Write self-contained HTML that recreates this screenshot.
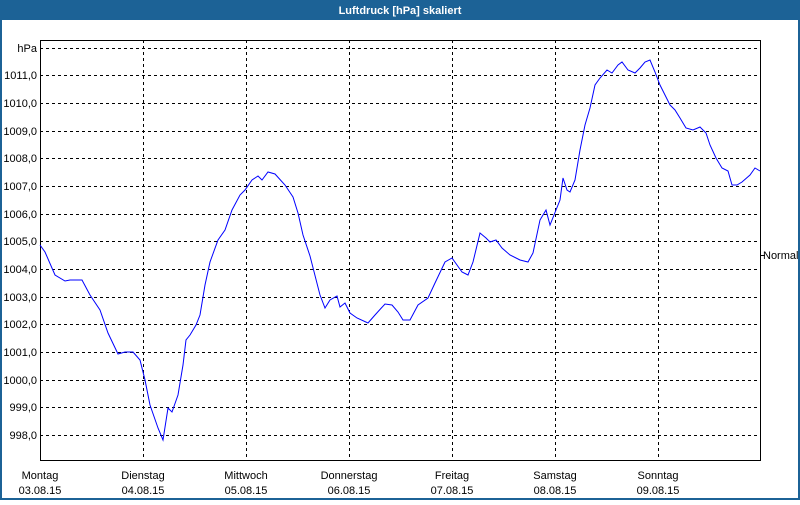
<!DOCTYPE html>
<html><head><meta charset="utf-8"><style>
html,body{margin:0;padding:0;}
body{width:800px;height:500px;overflow:hidden;background:#fff;font-family:"Liberation Sans","DejaVu Sans",sans-serif;}
</style></head><body>
<svg width="800" height="500" xmlns="http://www.w3.org/2000/svg" font-family="Liberation Sans, DejaVu Sans, sans-serif" font-size="11">
<rect x="0" y="0" width="800" height="500" fill="#1c6296"/>
<rect x="2" y="20" width="796" height="478" fill="#fff"/>
<text x="400" y="14" fill="#fff" font-weight="bold" text-anchor="middle">Luftdruck [hPa] skaliert</text>
<g stroke="#000" stroke-dasharray="3,3" stroke-width="1">
<line x1="40" x2="760" y1="48.5" y2="48.5"/>
<line x1="40" x2="760" y1="75.5" y2="75.5"/>
<line x1="40" x2="760" y1="103.5" y2="103.5"/>
<line x1="40" x2="760" y1="131.5" y2="131.5"/>
<line x1="40" x2="760" y1="158.5" y2="158.5"/>
<line x1="40" x2="760" y1="186.5" y2="186.5"/>
<line x1="40" x2="760" y1="214.5" y2="214.5"/>
<line x1="40" x2="760" y1="241.5" y2="241.5"/>
<line x1="40" x2="760" y1="269.5" y2="269.5"/>
<line x1="40" x2="760" y1="297.5" y2="297.5"/>
<line x1="40" x2="760" y1="324.5" y2="324.5"/>
<line x1="40" x2="760" y1="352.5" y2="352.5"/>
<line x1="40" x2="760" y1="380.5" y2="380.5"/>
<line x1="40" x2="760" y1="407.5" y2="407.5"/>
<line x1="40" x2="760" y1="435.5" y2="435.5"/>
<line x1="143.5" x2="143.5" y1="40" y2="460"/>
<line x1="246.5" x2="246.5" y1="40" y2="460"/>
<line x1="349.5" x2="349.5" y1="40" y2="460"/>
<line x1="452.5" x2="452.5" y1="40" y2="460"/>
<line x1="555.5" x2="555.5" y1="40" y2="460"/>
<line x1="658.5" x2="658.5" y1="40" y2="460"/>
</g>
<rect x="40.5" y="40.5" width="720" height="420" fill="none" stroke="#000"/>
<line x1="760" x2="765" y1="255.5" y2="255.5" stroke="#000"/>
<g text-anchor="end" fill="#000">
<text x="37" y="52">hPa</text>
<text x="37" y="79">1011,0</text>
<text x="37" y="107">1010,0</text>
<text x="37" y="135">1009,0</text>
<text x="37" y="162">1008,0</text>
<text x="37" y="190">1007,0</text>
<text x="37" y="218">1006,0</text>
<text x="37" y="245">1005,0</text>
<text x="37" y="273">1004,0</text>
<text x="37" y="301">1003,0</text>
<text x="37" y="328">1002,0</text>
<text x="37" y="356">1001,0</text>
<text x="37" y="384">1000,0</text>
<text x="37" y="411">999,0</text>
<text x="37" y="439">998,0</text>
</g>
<text x="763" y="259" fill="#000">Normal</text>
<g text-anchor="middle" fill="#000">
<text x="40" y="479">Montag</text><text x="40" y="494">03.08.15</text>
<text x="143" y="479">Dienstag</text><text x="143" y="494">04.08.15</text>
<text x="246" y="479">Mittwoch</text><text x="246" y="494">05.08.15</text>
<text x="349" y="479">Donnerstag</text><text x="349" y="494">06.08.15</text>
<text x="452" y="479">Freitag</text><text x="452" y="494">07.08.15</text>
<text x="555" y="479">Samstag</text><text x="555" y="494">08.08.15</text>
<text x="658" y="479">Sonntag</text><text x="658" y="494">09.08.15</text>
</g>
<polyline fill="none" stroke="#0000ff" stroke-width="1" points="40,245 45,252 55,275 65,281 70,280 82,280 90,295 100,310 108,333 118,354 125,352 133,352 140,360 145,380 150,405 158,428 163,440 168,408 172,412 178,395 183,365 186,340 190,335 196,325 200,315 205,285 210,262 218,240 225,230 232,210 240,195 245,190 252,180 258,176 262,180 268,172 275,174 285,185 293,197 298,213 303,235 310,256 320,295 325,308 330,300 337,296 340,307 345,303 350,313 357,318 368,323 375,315 385,304 392,305 398,312 403,320 410,320 418,305 428,298 435,283 445,262 452,258 457,265 462,272 468,275 473,262 480,233 486,238 490,242 496,240 502,248 510,255 520,260 528,262 533,253 540,220 546,210 550,225 556,210 560,200 563,178 567,190 570,192 575,180 580,150 585,125 590,108 595,85 600,78 607,70 612,73 618,65 622,62 628,70 635,73 640,68 645,62 650,60 655,72 660,85 665,95 670,105 675,110 680,118 686,128 693,130 700,127 706,133 710,145 716,158 722,168 728,171 732,185 737,185 742,182 750,175 755,168 760,171"/>
</svg>
</body></html>
